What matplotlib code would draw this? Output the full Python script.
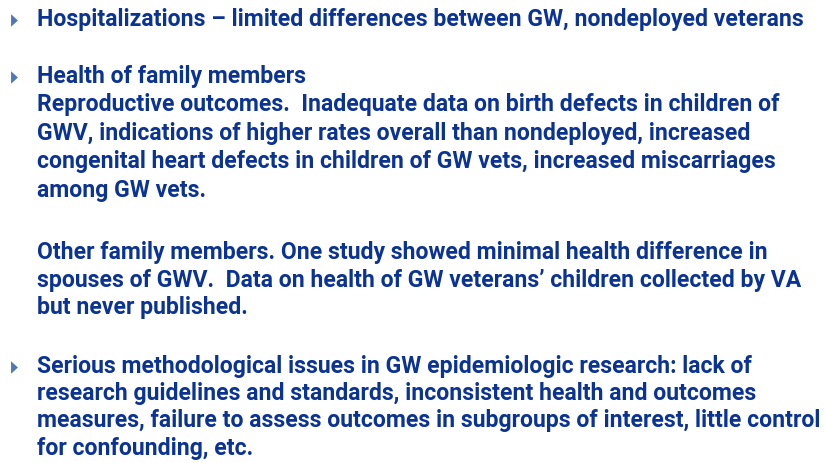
import matplotlib
matplotlib.use("Agg")
import matplotlib.pyplot as plt

lines = [
    "Hospitalizations \u2013 limited differences between GW, nondeployed veterans",
    "Health of family members",
    "Reproductive outcomes.  Inadequate data on birth defects in children of",
    "GWV, indications of higher rates overall than nondeployed, increased",
    "congenital heart defects in children of GW vets, increased miscarriages",
    "among GW vets.",
    "Other family members. One study showed minimal health difference in",
    "spouses of GWV.  Data on health of GW veterans\u2019 children collected by VA",
    "but never published.",
    "Serious methodological issues in GW epidemiologic research: lack of",
    "research guidelines and standards, inconsistent health and outcomes",
    "measures, failure to assess outcomes in subgroups of interest, little control",
    "for confounding, etc.",
]
baselines = [26, 83, 111, 140, 168, 197, 259, 287, 314, 373, 400, 427, 455]
bullet_idx = [0, 1, 9]

W, H = 826, 463
fig = plt.figure(figsize=(W / 100, H / 100), dpi=100)
ax = fig.add_axes([0, 0, 1, 1])
ax.set_xlim(0, W)
ax.set_ylim(H, 0)
ax.axis("off")

text_color = "#0B3394"
for txt, y in zip(lines, baselines):
    ax.text(37, y, txt, fontsize=16.6, fontweight="bold", family="Roboto",
            color=text_color, va="baseline", ha="left")

tri = [(-0.55, -1), (0.55, 0), (-0.55, 1), (-0.55, -1)]
for i in bullet_idx:
    ax.plot(14, baselines[i] - 6, marker=tri, markersize=9,
            color="#4F78B4", markeredgewidth=0, linestyle="none")

fig.savefig("out.png", dpi=100)
